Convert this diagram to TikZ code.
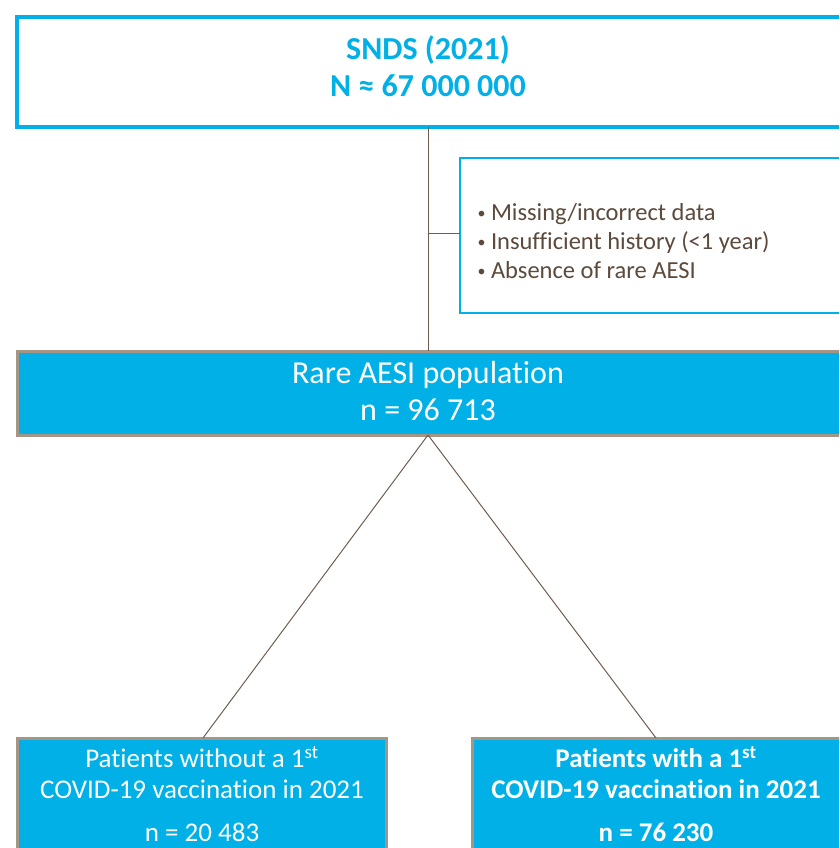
\documentclass[tikz,border=0pt]{standalone}
\usepackage{fontspec}
\setmainfont{Carlito}[Ligatures={NoCommon}]
\definecolor{cyanb}{HTML}{00B0E6}
\definecolor{tanb}{HTML}{A59584}
\definecolor{linec}{HTML}{6E5E52}
\definecolor{textb}{HTML}{5C4A3C}
\newcommand{\smbul}{\raisebox{0.2ex}{\scalebox{0.65}{\textbullet}}}
\begin{document}
\begin{tikzpicture}[x=1pt,y=-1pt,
  topbox/.style={draw=cyanb,line width=4pt,fill=white},
  exbox/.style={draw=cyanb,line width=2pt,fill=white},
  popbox/.style={draw=tanb,line width=3pt,fill=cyanb},
  conn/.style={draw=linec,line width=1pt}]
\useasboundingbox (0,0) rectangle (839,848);
\clip (0,0) rectangle (839,848);
% boxes
\draw[topbox] (17,17) rectangle (860,127);
\coordinate (topB) at (428,127);
\draw[exbox] (460,158) rectangle (860,313);
\coordinate (exL) at (460,233);
\draw[popbox] (17,351) rectangle (860,435);
\coordinate (popT) at (428,351);
\coordinate (popB) at (428,435);
\draw[popbox] (17,738) rectangle (386,870);
\coordinate (leftT) at (203,738);
\draw[popbox] (472,738) rectangle (860,870);
\coordinate (rightT) at (656,738);
% connectors
\coordinate (br) at (428,233);
\draw[conn] (topB) -- (popT);
\draw[conn] (br) -- (exL);
\draw[conn] (popB) -- (leftT);
\draw[conn] (popB) -- (rightT);
% texts
\node[text=cyanb,font={\fontsize{32}{38}\selectfont\bfseries},align=center] (t1) at (428,50) {SNDS (2021)};
\node[text=cyanb,font={\fontsize{32}{38}\selectfont\bfseries},align=center] (t2) at (428,86) {N ≈ 67 000 000};
\node[text=textb,font={\fontsize{24.5}{29}\selectfont},align=left,anchor=west] (ex) at (474,241)
  {\smbul\ Missing/incorrect data\\ \smbul\ Insufficient history (<1 year)\\ \smbul\ Absence of rare AESI};
\node[text=white,font={\fontsize{32}{38}\selectfont}] (p1) at (428,375) {Rare AESI population};
\node[text=white,font={\fontsize{32}{38}\selectfont}] (p2) at (428,410) {n = 96 713};
\node[text=white,font={\fontsize{27}{31}\selectfont},align=center] (l1) at (202,773) {Patients without a 1\textsuperscript{st}\\COVID-19 vaccination in 2021};
\node[text=white,font={\fontsize{27}{31}\selectfont}] (l2) at (202,832) {n = 20 483};
\node[text=white,font={\fontsize{27}{31}\selectfont\bfseries},align=center] (r1) at (656,773) {Patients with a 1\textsuperscript{st}\\COVID-19 vaccination in 2021};
\node[text=white,font={\fontsize{27}{31}\selectfont\bfseries}] (r2) at (656,832) {n = 76 230};
\end{tikzpicture}
\end{document}
